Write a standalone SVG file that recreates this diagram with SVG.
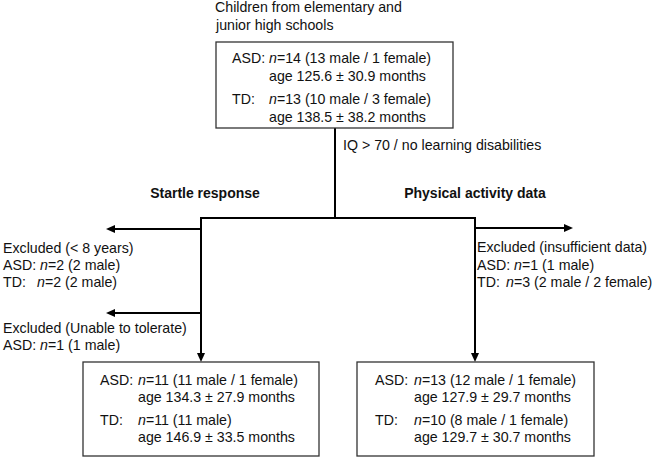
<svg xmlns="http://www.w3.org/2000/svg" width="666" height="458" viewBox="0 0 666 458">
  <style>
    text { font-family: "Liberation Sans", Arial, sans-serif; font-size: 14.2px; fill: #111; }
    .b { font-weight: bold; font-size: 14px; }
    .i { font-style: italic; }
    .box { fill: #fff; stroke: #333; stroke-width: 1.3; }
    .ln { stroke: #000; stroke-width: 2; fill: none; }
    .ar { stroke: #000; stroke-width: 2; fill: none; marker-end: url(#ah); }
  </style>
  <defs>
    <marker id="ah" markerUnits="userSpaceOnUse" viewBox="0 0 9 8" markerWidth="9" markerHeight="8" refX="4" refY="4" orient="auto">
      <path d="M0,0 L9,4 L0,8 z" fill="#000"/>
    </marker>
  </defs>
  <rect width="666" height="458" fill="#fff"/>

  <g id="connectors">
    <line class="ln" x1="335" y1="128" x2="335" y2="218"/>
    <polyline class="ln" points="201,357 201,218 475,218 475,357"/>
    <line class="ar" x1="201" y1="340" x2="201" y2="357"/>
    <line class="ar" x1="475" y1="340" x2="475" y2="357"/>
    <line class="ar" x1="201" y1="229" x2="111" y2="229"/>
    <line class="ar" x1="201" y1="313" x2="111" y2="313"/>
    <line class="ar" x1="475" y1="228" x2="568" y2="228"/>
  </g>

  <g id="source-label">
    <text x="215" y="12">Children from elementary and</text>
    <text x="216" y="30">junior high schools</text>
  </g>

  <g id="top-box">
    <rect class="box" x="216" y="42" width="237" height="86"/>
    <text x="232" y="63">ASD:</text>
    <text x="269" y="63"><tspan class="i">n</tspan>=14 (13 male / 1 female)</text>
    <text x="269" y="81">age 125.6 ± 30.9 months</text>
    <text x="232" y="104">TD:</text>
    <text x="269" y="104"><tspan class="i">n</tspan>=13 (10 male / 3 female)</text>
    <text x="269" y="122">age 138.5 ± 38.2 months</text>
  </g>

  <g id="criteria-label">
    <text x="343" y="150">IQ &gt; 70 / no learning disabilities</text>
  </g>

  <g id="startle-label">
    <text class="b" x="205" y="198" text-anchor="middle">Startle response</text>
  </g>
  <g id="activity-label">
    <text class="b" x="475" y="198" text-anchor="middle">Physical activity data</text>
  </g>

  <g id="excluded-age">
    <text x="3" y="253">Excluded (&lt; 8 years)</text>
    <text x="3" y="270">ASD: <tspan class="i">n</tspan>=2 (2 male)</text>
    <text x="3" y="287">TD:</text>
    <text x="37" y="287"><tspan class="i">n</tspan>=2 (2 male)</text>
  </g>

  <g id="excluded-tolerate">
    <text x="3" y="333">Excluded (Unable to tolerate)</text>
    <text x="3" y="350">ASD: <tspan class="i">n</tspan>=1 (1 male)</text>
  </g>

  <g id="excluded-data">
    <text x="477" y="252">Excluded (insufficient data)</text>
    <text x="477" y="270">ASD: <tspan class="i">n</tspan>=1 (1 male)</text>
    <text x="477" y="287">TD:</text>
    <text x="506" y="287"><tspan class="i">n</tspan>=3 (2 male / 2 female)</text>
  </g>

  <g id="startle-box">
    <rect class="box" x="83" y="362" width="236" height="94"/>
    <text x="100" y="385">ASD:</text>
    <text x="138" y="385"><tspan class="i">n</tspan>=11 (11 male / 1 female)</text>
    <text x="138" y="402">age 134.3 ± 27.9 months</text>
    <text x="100" y="425">TD:</text>
    <text x="138" y="425"><tspan class="i">n</tspan>=11 (11 male)</text>
    <text x="138" y="442">age 146.9 ± 33.5 months</text>
  </g>

  <g id="activity-box">
    <rect class="box" x="357" y="362" width="237" height="94"/>
    <text x="375" y="385">ASD:</text>
    <text x="414" y="385"><tspan class="i">n</tspan>=13 (12 male / 1 female)</text>
    <text x="414" y="402">age 127.9 ± 29.7 months</text>
    <text x="375" y="425">TD:</text>
    <text x="414" y="425"><tspan class="i">n</tspan>=10 (8 male / 1 female)</text>
    <text x="414" y="442">age 129.7 ± 30.7 months</text>
  </g>
</svg>
